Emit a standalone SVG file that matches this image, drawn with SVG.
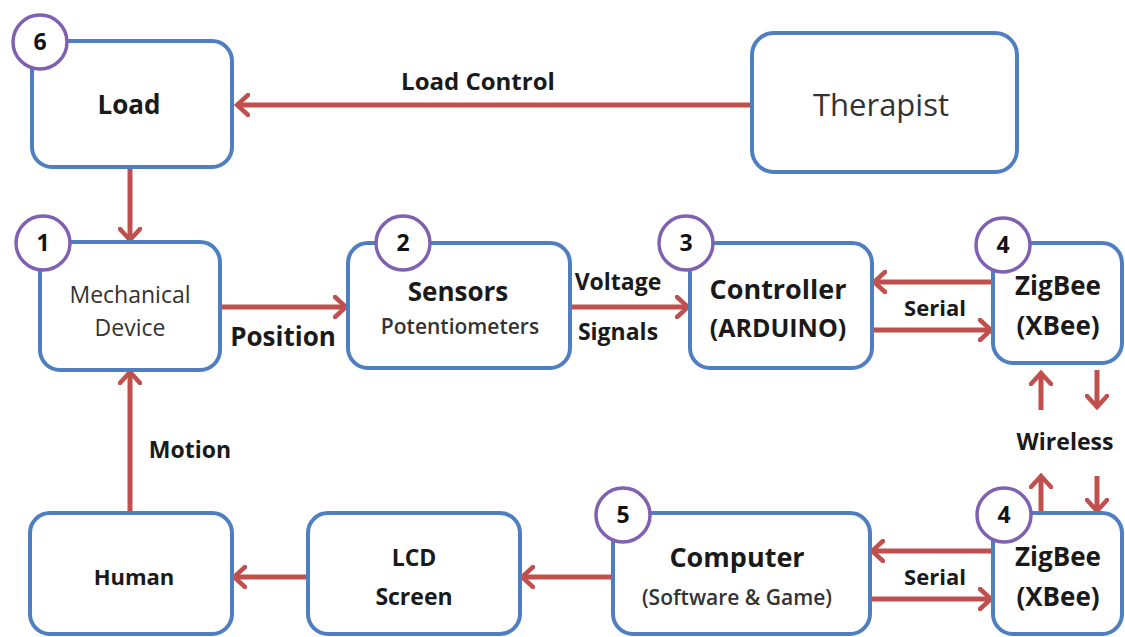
<svg xmlns="http://www.w3.org/2000/svg" width="1125" height="637" viewBox="0 0 1125 637">
<style>
.box{fill:#fff;stroke:#4F7FC0;stroke-width:4}
.num{fill:#fff;stroke:#8060B0;stroke-width:3.5}
.t{font-family:"Open Sans","Noto Sans","Liberation Sans",sans-serif;fill:#1a1a1a;text-anchor:middle}
.b{font-weight:700}
.r{font-weight:400;fill:#333}
.s{font-weight:600;fill:#333}
.n{font-family:"Open Sans","Liberation Sans",sans-serif;font-weight:700;font-size:23px;fill:#111;text-anchor:middle}
.c{stroke:#C0504D;stroke-width:5;fill:none;marker-end:url(#ah)}
</style>
<defs>
<marker id="ah" viewBox="0 0 16 24" refX="13" refY="12" markerWidth="16" markerHeight="24" markerUnits="userSpaceOnUse" orient="auto">
<path d="M2,2 L13,12 L2,22" fill="none" stroke="#C0504D" stroke-width="4.5" stroke-linecap="round" stroke-linejoin="miter"/>
</marker>
</defs>
<rect width="1125" height="637" fill="#fff"/>
<g id="connectors">
<line class="c" x1="752" y1="105" x2="237" y2="105"/>
<line class="c" x1="130" y1="167" x2="130" y2="240"/>
<line class="c" x1="220" y1="307" x2="346" y2="307"/>
<line class="c" x1="570" y1="307" x2="688" y2="307"/>
<line class="c" x1="993" y1="282" x2="874" y2="282"/>
<line class="c" x1="872" y1="330" x2="991" y2="330"/>
<line class="c" x1="1041" y1="410" x2="1041" y2="373"/>
<line class="c" x1="1097" y1="370" x2="1097" y2="407"/>
<line class="c" x1="1041" y1="513" x2="1041" y2="476"/>
<line class="c" x1="1097" y1="476" x2="1097" y2="511"/>
<line class="c" x1="130" y1="513" x2="130" y2="372"/>
<line class="c" x1="308" y1="577" x2="234" y2="577"/>
<line class="c" x1="613" y1="577" x2="522" y2="577"/>
<line class="c" x1="993" y1="551" x2="872" y2="551"/>
<line class="c" x1="870" y1="599" x2="991" y2="599"/>
<text class="t b" x="478" y="90" font-size="24">Load Control</text>
<text class="t b" x="283" y="346" font-size="26">Position</text>
<text class="t b" x="618" y="290" font-size="23">Voltage</text>
<text class="t b" x="618" y="340" font-size="23">Signals</text>
<text class="t b" x="935" y="316" font-size="22">Serial</text>
<text class="t b" x="1065" y="450" font-size="23">Wireless</text>
<text class="t b" x="190" y="458" font-size="23">Motion</text>
<text class="t b" x="935" y="585" font-size="22">Serial</text>
</g>
<g id="node-load">
<rect class="box" x="32" y="41" width="200" height="126" rx="20"/>
<circle class="num" cx="40" cy="42" r="27"/>
<text class="n" x="40" y="50">6</text>
<text class="t b" x="129" y="114" font-size="26">Load</text>
</g>
<g id="node-therapist">
<rect class="box" x="752" y="33" width="265" height="139" rx="22"/>
<text class="t r" x="881" y="116" font-size="31">Therapist</text>
</g>
<g id="node-mechanical">
<rect class="box" x="40" y="242" width="180" height="128" rx="20"/>
<circle class="num" cx="43" cy="243" r="27"/>
<text class="n" x="43" y="251">1</text>
<text class="t r" x="130" y="303" font-size="23">Mechanical</text>
<text class="t r" x="130" y="336" font-size="23">Device</text>
</g>
<g id="node-sensors">
<rect class="box" x="348" y="243" width="222" height="125" rx="20"/>
<circle class="num" cx="403" cy="243" r="27"/>
<text class="n" x="403" y="251">2</text>
<text class="t b" x="458" y="301" font-size="26">Sensors</text>
<text class="t s" x="460" y="334" font-size="21">Potentiometers</text>
</g>
<g id="node-controller">
<rect class="box" x="690" y="243" width="182" height="125" rx="20"/>
<circle class="num" cx="686" cy="243" r="27"/>
<text class="n" x="686" y="251">3</text>
<text class="t b" x="778" y="299" font-size="27">Controller</text>
<text class="t b" x="778" y="337" font-size="25">(ARDUINO)</text>
</g>
<g id="node-zigbee-top">
<rect class="box" x="993" y="243" width="129" height="120" rx="20"/>
<circle class="num" cx="1003" cy="245" r="27"/>
<text class="n" x="1003" y="253">4</text>
<text class="t b" x="1058" y="295" font-size="26">ZigBee</text>
<text class="t b" x="1058" y="335" font-size="26">(XBee)</text>
</g>
<g id="node-human">
<rect class="box" x="30" y="513" width="202" height="121" rx="20"/>
<text class="t b" x="134" y="585" font-size="22">Human</text>
</g>
<g id="node-lcd">
<rect class="box" x="308" y="513" width="212" height="121" rx="20"/>
<text class="t b" x="414" y="566" font-size="23">LCD</text>
<text class="t b" x="414" y="605" font-size="23">Screen</text>
</g>
<g id="node-computer">
<rect class="box" x="613" y="513" width="257" height="121" rx="20"/>
<circle class="num" cx="623" cy="515" r="27"/>
<text class="n" x="623" y="523">5</text>
<text class="t b" x="737" y="567" font-size="27">Computer</text>
<text class="t s" x="737" y="605" font-size="21">(Software &amp; Game)</text>
</g>
<g id="node-zigbee-bottom">
<rect class="box" x="993" y="513" width="129" height="121" rx="20"/>
<circle class="num" cx="1004" cy="515" r="27"/>
<text class="n" x="1004" y="523">4</text>
<text class="t b" x="1058" y="566" font-size="26">ZigBee</text>
<text class="t b" x="1058" y="606" font-size="26">(XBee)</text>
</g>
</svg>
